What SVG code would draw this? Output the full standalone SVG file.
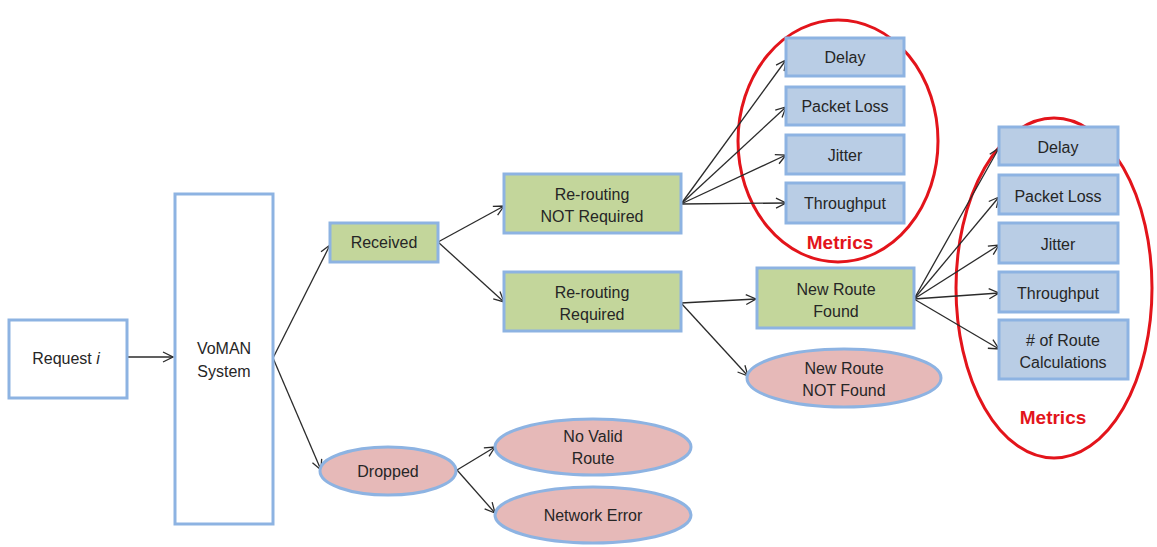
<svg xmlns="http://www.w3.org/2000/svg" width="1157" height="547" viewBox="0 0 1157 547">
  <style>
    .plain { fill: #ffffff; stroke: #8db3e2; stroke-width: 3; }
    .green { fill: #c3d69b; stroke: #8db3e2; stroke-width: 3; }
    .pink { fill: #e6b9b8; stroke: #8db3e2; stroke-width: 3; }
    .metric { fill: #b9cde5; stroke: #8db3e2; stroke-width: 3; }
    .ring { fill: none; stroke: #e3141b; stroke-width: 3; }
    text { font-family: "Liberation Sans", Arial, sans-serif; font-size: 16px; fill: #262626; text-anchor: middle; dominant-baseline: central; }
    .title { font-weight: bold; font-size: 19px; fill: #e3141b; }
    .conn line { stroke: #2b2b2b; stroke-width: 1.3; marker-end: url(#arrow); }
  </style>
  <defs>
    <marker id="arrow" viewBox="0 0 12 12" refX="11" refY="6" markerWidth="12" markerHeight="12" markerUnits="userSpaceOnUse" orient="auto">
      <path d="M1,1 L11,6 L1,11" fill="none" stroke="#2b2b2b" stroke-width="1.3"/>
    </marker>
  </defs>

  <rect width="1157" height="547" fill="#ffffff"/>

  <!-- metric groupings -->
  <ellipse class="ring" cx="838" cy="141" rx="100" ry="121"/>
  <text class="title" x="840" y="242">Metrics</text>
  <ellipse class="ring" cx="1054" cy="288" rx="98" ry="170"/>
  <text class="title" x="1053" y="417">Metrics</text>

  <!-- connectors -->
  <g class="conn">
    <line x1="127" y1="357" x2="173" y2="357"/>
    <line x1="273" y1="358" x2="330" y2="245"/>
    <line x1="273" y1="358" x2="321" y2="470"/>
    <line x1="438" y1="242" x2="504" y2="206"/>
    <line x1="438" y1="242" x2="504" y2="302"/>
    <line x1="681" y1="204" x2="786" y2="60"/>
    <line x1="681" y1="204" x2="786" y2="107"/>
    <line x1="681" y1="204" x2="786" y2="155"/>
    <line x1="681" y1="204" x2="786" y2="203"/>
    <line x1="681" y1="303" x2="756" y2="299"/>
    <line x1="681" y1="303" x2="748" y2="376"/>
    <line x1="914" y1="299" x2="999" y2="148"/>
    <line x1="914" y1="299" x2="999" y2="197"/>
    <line x1="914" y1="299" x2="999" y2="245"/>
    <line x1="914" y1="299" x2="999" y2="293"/>
    <line x1="914" y1="299" x2="999" y2="349"/>
    <line x1="457" y1="470" x2="495" y2="447"/>
    <line x1="457" y1="470" x2="495" y2="513"/>
  </g>

  <g id="request">
    <rect class="plain" x="9" y="320" width="118" height="78"/>
    <text x="66" y="358">Request <tspan font-style="italic">i</tspan></text>
  </g>
  <g id="voman">
    <rect class="plain" x="175" y="194" width="98" height="330"/>
    <text x="224" y="348">VoMAN</text>
    <text x="224" y="371">System</text>
  </g>
  <g id="received">
    <rect class="green" x="330" y="223" width="108" height="39"/>
    <text x="384" y="242">Received</text>
  </g>
  <g id="dropped">
    <ellipse class="pink" cx="388" cy="471" rx="68" ry="24"/>
    <text x="388" y="471">Dropped</text>
  </g>
  <g id="no-reroute">
    <rect class="green" x="504" y="174" width="177" height="59"/>
    <text x="592" y="194">Re-routing</text>
    <text x="592" y="216">NOT Required</text>
  </g>
  <g id="reroute">
    <rect class="green" x="504" y="272" width="177" height="59"/>
    <text x="592" y="292">Re-routing</text>
    <text x="592" y="314">Required</text>
  </g>
  <g id="route-found">
    <rect class="green" x="757" y="268" width="157" height="60"/>
    <text x="836" y="289">New Route</text>
    <text x="836" y="311">Found</text>
  </g>
  <g id="route-not-found">
    <ellipse class="pink" cx="844" cy="378" rx="97" ry="29"/>
    <text x="844" y="368">New Route</text>
    <text x="844" y="390">NOT Found</text>
  </g>
  <g id="no-valid-route">
    <ellipse class="pink" cx="593" cy="447" rx="98" ry="28"/>
    <text x="593" y="436">No Valid</text>
    <text x="593" y="458">Route</text>
  </g>
  <g id="network-error">
    <ellipse class="pink" cx="593" cy="515" rx="98" ry="28"/>
    <text x="593" y="515">Network Error</text>
  </g>

  <!-- metrics without re-routing -->
  <g id="m1-delay">
    <rect class="metric" x="786" y="38" width="118" height="38"/>
    <text x="845" y="57">Delay</text>
  </g>
  <g id="m1-loss">
    <rect class="metric" x="786" y="87" width="118" height="38"/>
    <text x="845" y="106">Packet Loss</text>
  </g>
  <g id="m1-jitter">
    <rect class="metric" x="786" y="135" width="118" height="39"/>
    <text x="845" y="155">Jitter</text>
  </g>
  <g id="m1-throughput">
    <rect class="metric" x="786" y="183" width="118" height="40"/>
    <text x="845" y="203">Throughput</text>
  </g>

  <!-- metrics after new route -->
  <g id="m2-delay">
    <rect class="metric" x="999" y="127" width="119" height="38"/>
    <text x="1058" y="147">Delay</text>
  </g>
  <g id="m2-loss">
    <rect class="metric" x="999" y="175" width="119" height="39"/>
    <text x="1058" y="196">Packet Loss</text>
  </g>
  <g id="m2-jitter">
    <rect class="metric" x="999" y="223" width="119" height="40"/>
    <text x="1058" y="244">Jitter</text>
  </g>
  <g id="m2-throughput">
    <rect class="metric" x="999" y="272" width="119" height="40"/>
    <text x="1058" y="293">Throughput</text>
  </g>
  <g id="m2-calcs">
    <rect class="metric" x="999" y="320" width="129" height="59"/>
    <text x="1063" y="340"># of Route</text>
    <text x="1063" y="362">Calculations</text>
  </g>
</svg>
